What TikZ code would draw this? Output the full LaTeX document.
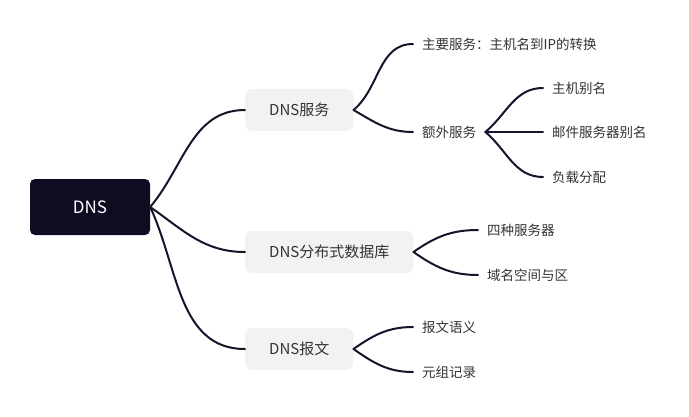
\documentclass[tikz,border=0pt]{standalone}
\usepackage{fontspec}
\setmainfont{Noto Sans CJK SC}
\definecolor{rootfill}{HTML}{0F0B21}
\definecolor{boxfill}{HTML}{F2F2F3}
\definecolor{linecol}{HTML}{17132B}
\definecolor{txtcol}{HTML}{333333}
\tikzset{
  rootbox/.style={fill=rootfill, text=white, rounded corners=5pt,
    minimum width=120pt, minimum height=56pt, inner sep=0pt,
    font=\fontsize{17}{20}\selectfont},
  topicbox/.style={fill=boxfill, text=txtcol, rounded corners=7pt,
    anchor=west, inner xsep=24pt, minimum height=42pt,
    font=\fontsize{15}{18}\selectfont},
  leaf/.style={anchor=west, inner xsep=9pt, inner ysep=0pt, text=txtcol,
    font=\fontsize{13.5}{16}\selectfont},
  branch/.style={draw=linecol, line width=2pt, line cap=round}
}
\begin{document}
\begin{tikzpicture}[x=1pt,y=1pt]
      \useasboundingbox (0,0) rectangle (689,-416);
      \node[rootbox] (dns) at (90,-207) {DNS};
      \node[topicbox] (svc) at (245,-110) {DNS服务};
      \node[topicbox] (db) at (245,-252) {DNS分布式数据库};
      \node[topicbox] (msg) at (245,-349) {DNS报文};
      \node[leaf] (main) at (413,-44) {主要服务：主机名到IP的转换};
      \node[leaf] (extra) at (413,-132) {额外服务};
      \node[leaf] (alias) at (543,-88) {主机别名};
      \node[leaf] (mail) at (543,-132) {邮件服务器别名};
      \node[leaf] (load) at (543,-177) {负载分配};
      \node[leaf] (four) at (478,-230) {四种服务器};
      \node[leaf] (zone) at (478,-275) {域名空间与区};
      \node[leaf] (sem) at (413,-327) {报文语义};
      \node[leaf] (rec) at (413,-372) {元组记录};
      \begin{scope}[branch]
        \draw (dns.east) to[out=50,in=180] (svc.west);
        \draw (dns.east) to[out=-35,in=180] (db.west);
        \draw (dns.east) to[out=-65,in=180] (msg.west);
        \draw (svc.east) to[out=40,in=180] (main.west);
        \draw (svc.east) to[out=-30,in=180] (extra.west);
        \draw (extra.east) to[out=40,in=180] (alias.west);
        \draw (extra.east) to (mail.west);
        \draw (extra.east) to[out=-40,in=180] (load.west);
        \draw (db.east) to[out=35,in=180] (four.west);
        \draw (db.east) to[out=-35,in=180] (zone.west);
        \draw (msg.east) to[out=35,in=180] (sem.west);
        \draw (msg.east) to[out=-35,in=180] (rec.west);
      \end{scope}
    \end{tikzpicture}
\end{document}
